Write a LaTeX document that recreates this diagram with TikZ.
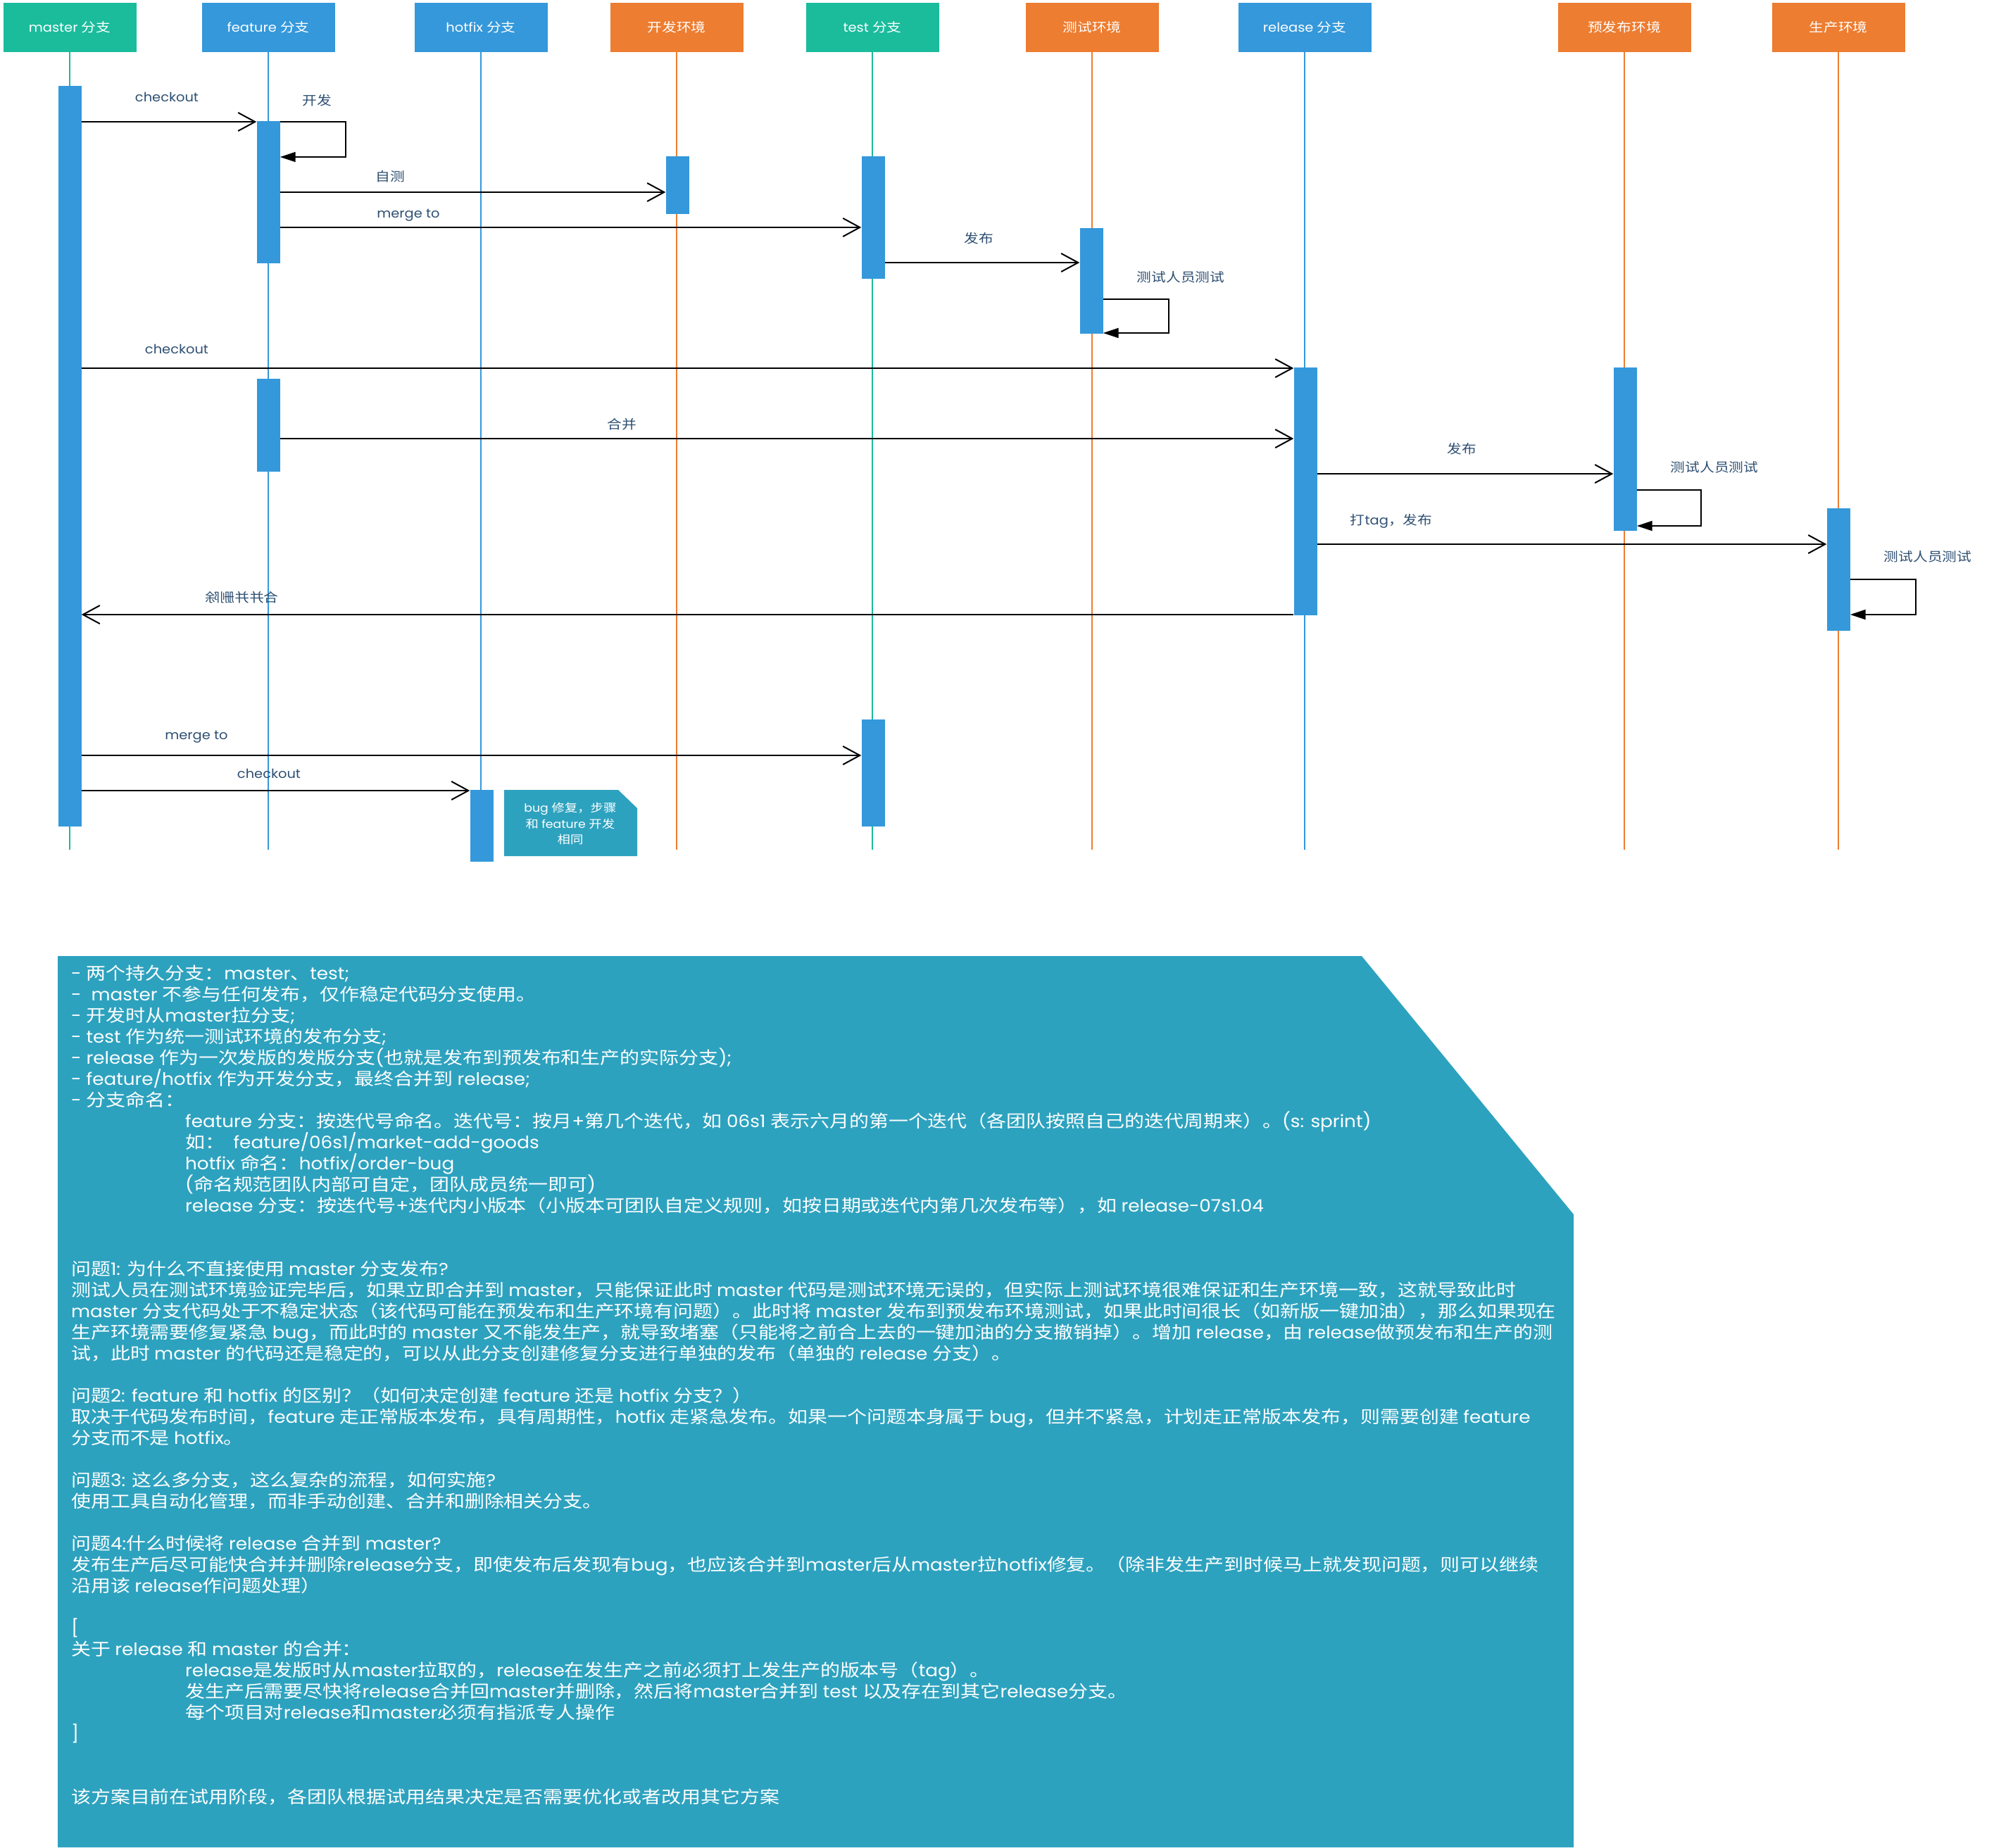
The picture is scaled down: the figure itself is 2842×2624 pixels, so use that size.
\documentclass[tikz,border=0pt]{standalone}
\usepackage{fontspec}
\usetikzlibrary{arrows.meta}
\setmainfont{Noto Sans CJK SC}[FakeStretch=1.15]
\newfontfamily\latinfont{Poppins}[FakeStretch=1.08]
\XeTeXinterchartokenstate=1
\chardef\cjkcls=7
\newcount\cjkc
\def\cjkrange#1#2{\cjkc=#1\relax
  \loop\XeTeXcharclass\cjkc=\cjkcls\relax
  \ifnum\cjkc<#2\relax\advance\cjkc by 1\repeat}
\cjkrange{"4E00}{"9FFF}
\cjkrange{"3000}{"303F}
\cjkrange{"FF00}{"FFEF}
\XeTeXinterchartoks \cjkcls 0 = {\latinfont}
\XeTeXinterchartoks 4095 0 = {\latinfont}
\XeTeXinterchartoks 0 \cjkcls = {\rmfamily}
\XeTeXinterchartoks 4095 \cjkcls = {\rmfamily}
\definecolor{cgreen}{HTML}{1ABC9C}
\definecolor{cblue}{HTML}{3498DB}
\definecolor{corange}{HTML}{ED7D31}
\definecolor{cbox}{HTML}{2DA2BF}
\definecolor{clabel}{HTML}{2E4F72}
\tikzset{
  hdr/.style={rectangle, minimum width=189pt, minimum height=70pt, inner sep=0pt, text=white, font=\fontsize{18}{20}\selectfont},
  hgreen/.style={hdr, fill=cgreen},
  hblue/.style={hdr, fill=cblue},
  horange/.style={hdr, fill=corange},
  actbar/.style={rectangle, fill=cblue, minimum width=33pt, inner sep=0pt, anchor=north},
  life/.style={line width=1.5pt},
  msg/.style={line width=2pt, -{Straight Barb[length=24pt,width=26pt]}},
  selfmsg/.style={line width=2pt, -{Triangle[length=22pt,width=14pt]}},
  lbl/.style={text=clabel, font=\fontsize{18}{20}\selectfont, inner sep=0pt},
  boxline/.style={anchor=base west, text=white, font=\fontsize{24.3}{30}\selectfont, inner sep=0pt},
}
\begin{document}
\begin{tikzpicture}[x=1pt, y=-1pt]
\useasboundingbox (0,0) rectangle (2842,2624);
% headers
\node[hgreen]  (hmaster)  at (99,39)   {master 分支};
\node[hblue]   (hfeature) at (381,39)  {feature 分支};
\node[hblue]   (hhotfix)  at (683,39)  {hotfix 分支};
\node[horange] (hdev)     at (961,39)  {开发环境};
\node[hgreen]  (htest)    at (1239,39) {test 分支};
\node[horange] (htenv)    at (1551,39) {测试环境};
\node[hblue]   (hrel)     at (1853,39) {release 分支};
\node[horange] (hpre)     at (2307,39) {预发布环境};
\node[horange] (hprod)    at (2611,39) {生产环境};
% lifelines
\coordinate (lend) at (0,1207);
\draw[life, cgreen]  (hmaster.south)  -- (hmaster.south |- lend);
\draw[life, cblue]   (hfeature.south) -- (hfeature.south |- lend);
\draw[life, cblue]   (hhotfix.south)  -- (hhotfix.south |- lend);
\draw[life, corange] (hdev.south)     -- (hdev.south |- lend);
\draw[life, cgreen]  (htest.south)    -- (htest.south |- lend);
\draw[life, corange] (htenv.south)    -- (htenv.south |- lend);
\draw[life, cblue]   (hrel.south)     -- (hrel.south |- lend);
\draw[life, corange] (hpre.south)     -- (hpre.south |- lend);
\draw[life, corange] (hprod.south)    -- (hprod.south |- lend);
% activation bars
\node[actbar, minimum height=1052pt] (mbar)    at (99,122)   {};
\node[actbar, minimum height=202pt]  (fbar1)   at (381,172)  {};
\node[actbar, minimum height=132pt]  (fbar2)   at (381,538)  {};
\node[actbar, minimum height=82pt]   (devbar)  at (962,222)  {};
\node[actbar, minimum height=174pt]  (tbar1)   at (1240,222) {};
\node[actbar, minimum height=150pt]  (tebar)   at (1550,324) {};
\node[actbar, minimum height=352pt]  (rbar)    at (1854,522) {};
\node[actbar, minimum height=232pt]  (prebar)  at (2308,522) {};
\node[actbar, minimum height=174pt]  (prodbar) at (2611,722) {};
\node[actbar, minimum height=152pt]  (tbar2)   at (1240,1022) {};
\node[actbar, minimum height=102pt]  (hbar)    at (684,1122) {};
% message levels
\coordinate (y173) at (0,173);
\coordinate (y223) at (0,223);
\coordinate (y273) at (0,273);
\coordinate (y323) at (0,323);
\coordinate (y373) at (0,373);
\coordinate (y425) at (0,425);
\coordinate (y473) at (0,473);
\coordinate (y523) at (0,523);
\coordinate (y623) at (0,623);
\coordinate (y673) at (0,673);
\coordinate (y696) at (0,696);
\coordinate (y747) at (0,747);
\coordinate (y773) at (0,773);
\coordinate (y823) at (0,823);
\coordinate (y873) at (0,873);
\coordinate (y1073) at (0,1073);
\coordinate (y1123) at (0,1123);
% messages
\draw[msg] (mbar.east |- y173) -- (fbar1.west |- y173);
\draw[selfmsg] (fbar1.east |- y173) -- ++(93,0) |- (fbar1.east |- y223);
\draw[msg] (fbar1.east |- y273) -- (devbar.west |- y273);
\draw[msg] (fbar1.east |- y323) -- (tbar1.west |- y323);
\draw[msg] (tbar1.east |- y373) -- (tebar.west |- y373);
\draw[selfmsg] (tebar.east |- y425) -- ++(93,0) |- (tebar.east |- y473);
\draw[msg] (mbar.east |- y523) -- (rbar.west |- y523);
\draw[msg] (fbar2.east |- y623) -- (rbar.west |- y623);
\draw[msg] (rbar.east |- y673) -- (prebar.west |- y673);
\draw[selfmsg] (prebar.east |- y696) -- ++(91,0) |- (prebar.east |- y747);
\draw[msg] (rbar.east |- y773) -- (prodbar.west |- y773);
\draw[selfmsg] (prodbar.east |- y823) -- ++(93,0) |- (prodbar.east |- y873);
\draw[msg] (rbar.west |- y873) -- (mbar.east |- y873);
\draw[msg] (mbar.east |- y1073) -- (tbar2.west |- y1073);
\draw[msg] (mbar.east |- y1123) -- (hbar.west |- y1123);
% message labels
\node[lbl] (t1)  at (237,138)  {checkout};
\node[lbl] (t2)  at (450,143)  {开发};
\node[lbl] (t3)  at (554,251)  {自测};
\node[lbl] (t4)  at (580,306)  {merge to};
\node[lbl] (t5)  at (1390,339) {发布};
\node[lbl] (t6)  at (1677,394) {测试人员测试};
\node[lbl] (t7)  at (251,496)  {checkout};
\node[lbl] (t8)  at (883,603)  {合并};
\node[lbl] (t9)  at (2076,638) {发布};
\node[lbl] (t10) at (2435,664) {测试人员测试};
\node[lbl] (t11) at (1976,740) {打tag，发布};
\node[lbl] (t12) at (2738,791) {测试人员测试};
\node[lbl] (t13) at (344,849)  {\scalebox{-1}[1]{合并并删除}};
\node[lbl] (t14) at (279,1047) {merge to};
\node[lbl] (t15) at (382,1099) {checkout};
% note
\fill[cbox] (716,1122) -- (878,1122) -- (905,1148) -- (905,1216) -- (716,1216) -- cycle;
\node[text=white, align=center, inner sep=0pt, font=\fontsize{16}{22.5}\selectfont] (note) at (810,1170) {bug 修复，步骤\\和 feature 开发\\相同};
% text box
\fill[cbox] (82,1358) -- (1934,1358) -- (2235,1725) -- (2235,2624) -- (82,2624) -- cycle;
\node[boxline] (l0)  at (101,1391) {- 两个持久分支：master、test;};
\node[boxline] (l1)  at (101,1421) {-\ \ master 不参与任何发布，仅作稳定代码分支使用。};
\node[boxline] (l2)  at (101,1451) {- 开发时从master拉分支;};
\node[boxline] (l3)  at (101,1481) {- test 作为统一测试环境的发布分支;};
\node[boxline] (l4)  at (101,1511) {- release 作为一次发版的发版分支(也就是发布到预发布和生产的实际分支);};
\node[boxline] (l5)  at (101,1541) {- feature/hotfix 作为开发分支，最终合并到 release;};
\node[boxline] (l6)  at (101,1571) {- 分支命名：};
\node[boxline] (l7)  at (263,1601) {feature 分支：按迭代号命名。迭代号：按月+第几个迭代，如 06s1 表示六月的第一个迭代（各团队按照自己的迭代周期来）。(s: sprint)};
\node[boxline] (l8)  at (263,1631) {如：\ \ feature/06s1/market-add-goods};
\node[boxline] (l9)  at (263,1661) {hotfix 命名：hotfix/order-bug};
\node[boxline] (l10) at (263,1691) {(命名规范团队内部可自定，团队成员统一即可)};
\node[boxline] (l11) at (263,1721) {release 分支：按迭代号+迭代内小版本（小版本可团队自定义规则，如按日期或迭代内第几次发布等），如 release-07s1.04};
\node[boxline] (l14) at (101,1811) {问题1: 为什么不直接使用 master 分支发布?};
\node[boxline] (l15) at (101,1841) {测试人员在测试环境验证完毕后，如果立即合并到 master，只能保证此时 master 代码是测试环境无误的，但实际上测试环境很难保证和生产环境一致，这就导致此时};
\node[boxline] (l16) at (101,1871) {master 分支代码处于不稳定状态（该代码可能在预发布和生产环境有问题）。此时将 master 发布到预发布环境测试，如果此时间很长（如新版一键加油），那么如果现在};
\node[boxline] (l17) at (101,1901) {生产环境需要修复紧急 bug，而此时的 master 又不能发生产，就导致堵塞（只能将之前合上去的一键加油的分支撤销掉）。增加 release，由 release做预发布和生产的测};
\node[boxline] (l18) at (101,1931) {试，此时 master 的代码还是稳定的，可以从此分支创建修复分支进行单独的发布（单独的 release 分支）。};
\node[boxline] (l20) at (101,1991) {问题2: feature 和 hotfix 的区别？（如何决定创建 feature 还是 hotfix 分支？）};
\node[boxline] (l21) at (101,2021) {取决于代码发布时间，feature 走正常版本发布，具有周期性，hotfix 走紧急发布。如果一个问题本身属于 bug，但并不紧急，计划走正常版本发布，则需要创建 feature};
\node[boxline] (l22) at (101,2051) {分支而不是 hotfix。};
\node[boxline] (l24) at (101,2111) {问题3: 这么多分支，这么复杂的流程，如何实施?};
\node[boxline] (l25) at (101,2141) {使用工具自动化管理，而非手动创建、合并和删除相关分支。};
\node[boxline] (l27) at (101,2201) {问题4:什么时候将 release 合并到 master?};
\node[boxline] (l28) at (101,2231) {发布生产后尽可能快合并并删除release分支，即使发布后发现有bug，也应该合并到master后从master拉hotfix修复。（除非发生产到时候马上就发现问题，则可以继续};
\node[boxline] (l29) at (101,2261) {沿用该 release作问题处理）};
\node[boxline] (l31) at (101,2321) {[};
\node[boxline] (l32) at (101,2351) {关于 release 和 master 的合并：};
\node[boxline] (l33) at (263,2381) {release是发版时从master拉取的，release在发生产之前必须打上发生产的版本号（tag）。};
\node[boxline] (l34) at (263,2411) {发生产后需要尽快将release合并回master并删除，然后将master合并到 test 以及存在到其它release分支。};
\node[boxline] (l35) at (263,2441) {每个项目对release和master必须有指派专人操作};
\node[boxline] (l36) at (101,2471) {]};
\node[boxline] (l39) at (101,2561) {该方案目前在试用阶段，各团队根据试用结果决定是否需要优化或者改用其它方案};
\end{tikzpicture}
\end{document}
